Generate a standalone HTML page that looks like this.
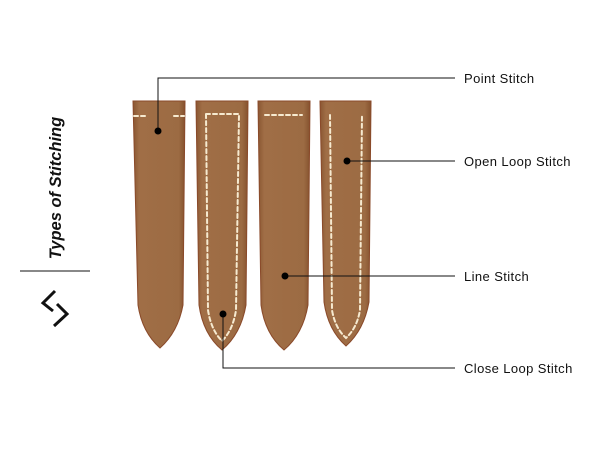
<!DOCTYPE html>
<html><head><style>
body{margin:0;background:#fff;}
svg{display:block}
text{font-family:"Liberation Sans",sans-serif;}
</style></head><body>
<svg width="600" height="450" viewBox="0 0 600 450" xmlns="http://www.w3.org/2000/svg">
<defs>
<linearGradient id="g" x1="0" x2="1" y1="0" y2="0">
<stop offset="0" stop-color="#8a5632"/><stop offset="0.12" stop-color="#a06e46"/><stop offset="0.88" stop-color="#9c6b43"/><stop offset="1" stop-color="#85512e"/>
</linearGradient>
</defs>
<path d="M133,101 L185,101 L183,305 Q178,332 160,348 Q142,332 138,305 Z" fill="url(#g)" stroke="#8a4a2a" stroke-width="1"/>
<path d="M196,101 L248,101 L246,305 Q241,334 222,350 Q203,334 199,305 Z" fill="url(#g)" stroke="#8a4a2a" stroke-width="1"/>
<path d="M258,101 L310,101 L308,305 Q303,334 284,350 Q265,334 261,305 Z" fill="url(#g)" stroke="#8a4a2a" stroke-width="1"/>
<path d="M320,101 L371,101 L369,302 Q364,330 346,346 Q328,330 324,302 Z" fill="url(#g)" stroke="#8a4a2a" stroke-width="1"/>
<g stroke="#f6ead0" stroke-width="2" fill="none" stroke-dasharray="4,3" stroke-linecap="round">
<path d="M134,116 L146,116"/><path d="M174,116 L184,116"/>
<path d="M206,114 L239,114 L236,310 Q233,330 222,341 Q211,330 208,310 Z"/>
<path d="M265,115 L302,115"/>
<path d="M330,115 L332,310 Q335,328 346,338 Q357,328 360,310 L362,115"/>
</g>
<g stroke="#111" stroke-width="1" fill="none">
<polyline points="158,131 158,78 455,78"/>
<polyline points="347,161 455,161"/>
<polyline points="285,276 455,276"/>
<polyline points="223,314 223,368 455,368"/>
<line x1="20" y1="271" x2="90" y2="271"/>
</g>
<g fill="#000">
<circle cx="158" cy="131" r="3.5"/><circle cx="347" cy="161" r="3.5"/>
<circle cx="285" cy="276" r="3.5"/><circle cx="223" cy="314" r="3.5"/>
</g>
<g font-size="13" fill="#111" letter-spacing="0.4">
<text x="464" y="83">Point Stitch</text>
<text x="464" y="166">Open Loop Stitch</text>
<text x="464" y="281">Line Stitch</text>
<text x="464" y="373">Close Loop Stitch</text>
</g>
<text transform="translate(61,188) rotate(-90)" text-anchor="middle" font-size="16.5" font-weight="bold" font-style="italic" fill="#111">Types of Stitching</text>
<g stroke="#111" stroke-width="3" fill="none" stroke-linejoin="miter">
<polyline points="55,291 43,303 53,311"/>
<polyline points="57,304 67,314 54,326"/>
</g>
</svg>
</body></html>
